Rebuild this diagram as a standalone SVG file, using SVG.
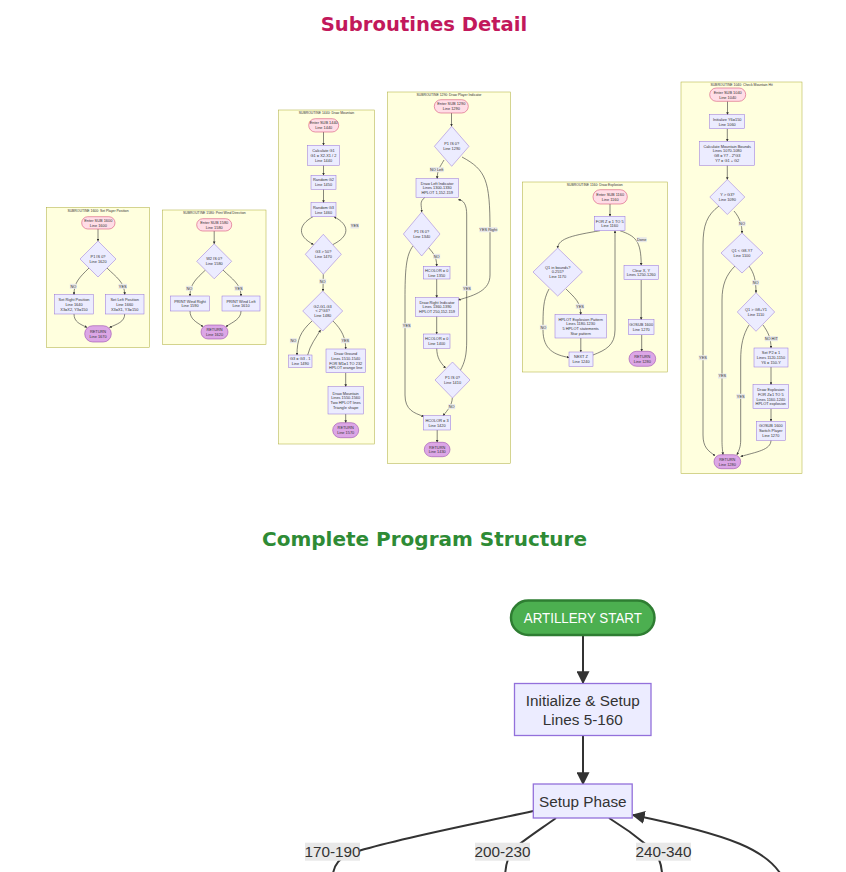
<svg xmlns="http://www.w3.org/2000/svg" width="846" height="872" viewBox="0 0 846 872">
<defs>
<marker id="a" viewBox="0 0 10 10" refX="9" refY="5" markerWidth="2.6" markerHeight="2.6" markerUnits="userSpaceOnUse" orient="auto"><path d="M0,0 L10,5 L0,10 Z" fill="#333"/></marker>
<marker id="b" viewBox="0 0 10 10" refX="9" refY="5" markerWidth="13" markerHeight="13" markerUnits="userSpaceOnUse" orient="auto"><path d="M0,0 L10,5 L0,10 Z" fill="#333"/></marker>
</defs>
<style>
.cl{fill:#ffffde;stroke:#aaaa33;stroke-width:0.5}
.n{fill:#ececff;stroke:#9370db;stroke-width:0.5}
.en{fill:#ffdde6;stroke:#d6547a;stroke-width:0.6}
.rt{fill:#dca6e6;stroke:#9c4fb0;stroke-width:0.6}
.t{font-family:"Liberation Sans",Arial,sans-serif;font-size:3.9px;fill:#333;text-anchor:middle}
.ct{font-family:"Liberation Sans",Arial,sans-serif;font-size:3.4px;fill:#333;text-anchor:middle}
.e{fill:none;stroke:#444;stroke-width:0.65;marker-end:url(#a)}
.lb{fill:#e8e8e8}
.bn{fill:#ececff;stroke:#9370db;stroke-width:1.3}
.be{fill:none;stroke:#333;stroke-width:2}
.bt{font-family:"Liberation Sans",Arial,sans-serif;font-size:15.3px;fill:#333;text-anchor:middle}
.h{font-family:"DejaVu Sans",Verdana,sans-serif;font-weight:bold;text-anchor:middle}
</style>
<rect width="846" height="872" fill="#ffffff"/>
<text class="h" x="424" y="31" font-size="19.6" fill="#c2185b">Subroutines Detail</text>
<text class="h" x="424.5" y="546.3" font-size="20" fill="#2e8b35">Complete Program Structure</text>

<!-- clusters -->
<g id="sub1600">
<rect class="cl" x="46.5" y="207.5" width="103" height="140"/>
<text class="ct" x="98" y="211.8">SUBROUTINE 1600: Set Player Position</text>
</g>
<g id="sub1580">
<rect class="cl" x="162.7" y="210" width="103.3" height="134.7"/>
<text class="ct" x="214.4" y="214">SUBROUTINE 1580: Print Wind Direction</text>
</g>
<g id="sub1440">
<rect class="cl" x="278.7" y="110" width="95.6" height="334"/>
<text class="ct" x="326.5" y="114">SUBROUTINE 1440: Draw Mountain</text>
</g>
<g id="sub1290">
<rect class="cl" x="387.5" y="92" width="123" height="371.3"/>
<text class="ct" x="449" y="96">SUBROUTINE 1290: Draw Player Indicator</text>
</g>
<g id="sub1160">
<rect class="cl" x="522.3" y="182" width="145" height="190"/>
<text class="ct" x="594.8" y="186.3">SUBROUTINE 1160: Draw Explosion</text>
</g>
<g id="sub1040">
<rect class="cl" x="681" y="82" width="121" height="391.7"/>
<text class="ct" x="741.5" y="86">SUBROUTINE 1040: Check Mountain Hit</text>
</g>

<!-- connectors -->
<g id="connectors">
<!-- 1600 -->
<path class="e" d="M98,229 L98,241"/>
<path class="e" d="M89,268 C80,277 74,282 74,294.7"/>
<path class="e" d="M107,268 C116,277 124.7,282 124.7,294.7"/>
<path class="e" d="M74,314 C74,322 80,324 87,327.5"/>
<path class="e" d="M124.7,314 C124.7,322 117,324 109.5,327.5"/>
<!-- 1580 -->
<path class="e" d="M214.2,231 L214.2,243.8"/>
<path class="e" d="M205.5,270 C196,279 190,284 190,296"/>
<path class="e" d="M223,270 C232,279 241,284 241,296"/>
<path class="e" d="M190,311 C190,319 196,322 203,326.5"/>
<path class="e" d="M241,311 C241,319 233,322 226,326.5"/>
<!-- 1440 -->
<path class="e" d="M323.5,132 L323.5,145.3"/>
<path class="e" d="M323.5,165.3 L323.5,175.3"/>
<path class="e" d="M323.5,189.3 L323.5,202.7"/>
<path class="e" d="M313,216.7 C298,225 297,236 313.5,244.5"/>
<path class="e" d="M333,244.5 C350,236 350,225 334,216.7"/>
<path class="e" d="M323.3,274.3 L323,291"/>
<path class="e" d="M312,321 C300,332 297,340 297,355"/>
<path class="e" d="M307.7,355 C310,345 316,338 320.5,330"/>
<path class="e" d="M333,321 C342,330 345.7,338 345.7,349"/>
<path class="e" d="M345.7,372.7 L345.7,386.7"/>
<path class="e" d="M345.7,414 L345.7,422.7"/>
<!-- 1290 -->
<path class="e" d="M451.5,113 L451.5,126.3"/>
<path class="e" d="M444,160 C440,167 437.2,170 437.2,178.7"/>
<path class="e" d="M462,157 C486,170 490,180 490,230 L490,275 C490,290 476,295 458.3,300"/>
<path class="e" d="M425,197.3 C419,202 421.7,205 421.7,212"/>
<path class="e" d="M428,247 C433,253 436.7,256 436.7,266.3"/>
<path class="e" d="M413,246 C406,255 405,270 405,300 L405,395 C405,410 414,413 423.8,416.5"/>
<path class="e" d="M436.7,279 L436.7,297.7"/>
<path class="e" d="M436.7,316.3 L436.7,334"/>
<path class="e" d="M436.7,348.3 C437,358 440,362 445.5,368"/>
<path class="e" d="M460,371 C465,362 466.7,355 466.7,340 L466.7,215 C466.7,205 464,200 458.3,199.7"/>
<path class="e" d="M452.3,398 C452,405 448,410 443,415.7"/>
<path class="e" d="M437.2,430 L437.2,442.3"/>
<!-- 1160 -->
<path class="e" d="M610,204 L610,216.3"/>
<path class="e" d="M600,230.7 C575,235 558,238 557.7,248"/>
<path class="e" d="M620,230.7 C635,236 641.2,240 641.2,265.3"/>
<path class="e" d="M566,289 C575,298 580.7,302 580.7,314.7"/>
<path class="e" d="M549,289 C543,300 543,310 543,330 C543,350 555,355 569,357.5"/>
<path class="e" d="M580.8,338 L580.8,352"/>
<path class="e" d="M593,355 C606,350 615,345 615,330 L615,245 C615,237 615,234 615,230.7"/>
<path class="e" d="M641.2,279.7 L641.2,319.7"/>
<path class="e" d="M641.7,334.7 L641.7,351.3"/>
<!-- 1040 -->
<path class="e" d="M727.5,101.3 L727.5,114.7"/>
<path class="e" d="M727.3,128.7 L727.3,141.3"/>
<path class="e" d="M727.3,165.3 L727.3,179.5"/>
<path class="e" d="M734,211 C740,218 742,225 742,233"/>
<path class="e" d="M719,206 C707,215 703,225 703,245 L703,435 C703,447 708,451 715,455.5"/>
<path class="e" d="M749,266 C754,273 756,280 756,292.7"/>
<path class="e" d="M735,266 C726,275 722,285 722,300 L722,440 C722,447 722.5,450 723,454.7"/>
<path class="e" d="M763,325 C768,332 771,338 771,348"/>
<path class="e" d="M749,325 C743,335 740.7,345 740.7,360 L740.7,440 C740.7,447 739,450 737,454.7"/>
<path class="e" d="M771,367 L771,384.7"/>
<path class="e" d="M771,408.7 L771,421.3"/>
<path class="e" d="M771,440.3 C771,450 756,452 740.7,456.5"/>
<!-- main -->
<path class="be" marker-end="url(#b)" d="M583,635 L583,683"/>
<path class="be" marker-end="url(#b)" d="M583,735.3 L583,784"/>
<path class="be" d="M533.3,811 C470,825 400,838 355,852 C340,857 332.5,864 332.5,880"/>
<path class="be" d="M556,818 C545,826 530,836 517,846 C509,854 505,862 505,880"/>
<path class="be" d="M609,818 C622,826 636,836 648,846 C658,854 662.3,862 662.3,880"/>
<path class="be" marker-end="url(#b)" d="M784,880 C770,850 730,835 633,815"/>
</g>

<!-- edge labels -->
<g id="edge-labels">
<rect class="lb" x="69.8" y="283.8" width="7" height="5"/><text class="t" x="73.3" y="287.7">NO</text>
<rect class="lb" x="118.5" y="283.8" width="8.5" height="5"/><text class="t" x="122.7" y="287.7">YES</text>
<rect class="lb" x="185.8" y="285.8" width="7" height="5"/><text class="t" x="189.3" y="289.7">NO</text>
<rect class="lb" x="234.5" y="285.8" width="8.5" height="5"/><text class="t" x="238.7" y="289.7">YES</text>
<rect class="lb" x="350.5" y="223.5" width="8.5" height="5"/><text class="t" x="354.7" y="227.4">YES</text>
<rect class="lb" x="319.2" y="278.8" width="7" height="5"/><text class="t" x="322.7" y="282.7">NO</text>
<rect class="lb" x="289.8" y="338.2" width="7" height="5"/><text class="t" x="293.3" y="342.1">NO</text>
<rect class="lb" x="341" y="338.2" width="8.5" height="5"/><text class="t" x="345.3" y="342.1">YES</text>
<rect class="lb" x="429.7" y="167.2" width="14" height="5"/><text class="t" x="436.7" y="171.1">NO Left</text>
<rect class="lb" x="479.3" y="227.2" width="18" height="5"/><text class="t" x="488.3" y="231.1">YES Right</text>
<rect class="lb" x="433.2" y="253.8" width="7" height="5"/><text class="t" x="436.7" y="257.7">NO</text>
<rect class="lb" x="462.7" y="285.8" width="8.5" height="5"/><text class="t" x="467" y="289.7">YES</text>
<rect class="lb" x="402.4" y="323.2" width="8.5" height="5"/><text class="t" x="406.7" y="327.1">YES</text>
<rect class="lb" x="448.2" y="404.2" width="7" height="5"/><text class="t" x="451.7" y="408.1">NO</text>
<rect class="lb" x="636.7" y="237.2" width="10" height="5"/><text class="t" x="641.7" y="241.1">Done</text>
<rect class="lb" x="575.7" y="303.8" width="8.5" height="5"/><text class="t" x="580" y="307.7">YES</text>
<rect class="lb" x="539.8" y="324.8" width="7" height="5"/><text class="t" x="543.3" y="328.7">NO</text>
<rect class="lb" x="738.5" y="221.2" width="7" height="5"/><text class="t" x="742" y="225.1">NO</text>
<rect class="lb" x="752.2" y="280.2" width="7" height="5"/><text class="t" x="755.7" y="284.1">NO</text>
<rect class="lb" x="764.8" y="336.2" width="13" height="5"/><text class="t" x="771.3" y="340.1">NO HIT</text>
<rect class="lb" x="698.7" y="355.2" width="8.5" height="5"/><text class="t" x="703" y="359.1">YES</text>
<rect class="lb" x="718" y="373.5" width="8.5" height="5"/><text class="t" x="722.3" y="377.4">YES</text>
<rect class="lb" x="736.4" y="393.8" width="8.5" height="5"/><text class="t" x="740.7" y="397.7">YES</text>
<rect class="lb" x="305" y="842.7" width="55" height="18"/><text class="bt" x="332.5" y="857">170-190</text>
<rect class="lb" x="475" y="842.7" width="55" height="18"/><text class="bt" x="502.5" y="857">200-230</text>
<rect class="lb" x="636" y="842.7" width="55" height="18"/><text class="bt" x="663.5" y="857">240-340</text>
</g>

<!-- 1600 nodes -->
<g id="n1600_enter"><rect class="en" x="81.7" y="216.7" width="33.3" height="12.3" rx="6.1"/><text class="t" x="98.3" y="222"><tspan x="98.3">Enter SUB 1600</tspan><tspan x="98.3" dy="4.8">Line 1600</tspan></text></g>
<g id="n1600_dec"><path class="n" d="M98,241 L116,259 L98,277 L80,259 Z"/><text class="t" x="98" y="258"><tspan x="98">P1 IS 0?</tspan><tspan x="98" dy="4.8">Line 1620</tspan></text></g>
<g id="n1600_right"><rect class="n" x="54.7" y="294.7" width="38.6" height="19.3"/><text class="t" y="300.9"><tspan x="74">Set Right Position</tspan><tspan x="74" dy="4.8">Line 1640</tspan><tspan x="74" dy="4.8">X3=X2, Y3=150</tspan></text></g>
<g id="n1600_left"><rect class="n" x="105.3" y="294.7" width="38.7" height="19.3"/><text class="t" y="300.9"><tspan x="124.7">Set Left Position</tspan><tspan x="124.7" dy="4.8">Line 1660</tspan><tspan x="124.7" dy="4.8">X3=X1, Y3=150</tspan></text></g>
<g id="n1600_ret"><rect class="rt" x="84.7" y="325.7" width="26.6" height="16.3" rx="8.1"/><text class="t" y="333"><tspan x="98">RETURN</tspan><tspan x="98" dy="4.8">Line 1670</tspan></text></g>

<!-- 1580 nodes -->
<g id="n1580_enter"><rect class="en" x="196.7" y="218.7" width="35" height="12.3" rx="6.1"/><text class="t" y="223.8"><tspan x="214.2">Enter SUB 1580</tspan><tspan x="214.2" dy="4.8">Line 1580</tspan></text></g>
<g id="n1580_dec"><path class="n" d="M214.2,243.8 L231.7,261.3 L214.2,278.8 L196.7,261.3 Z"/><text class="t" y="260.3"><tspan x="214.2">W2 IS 0?</tspan><tspan x="214.2" dy="4.8">Line 1580</tspan></text></g>
<g id="n1580_right"><rect class="n" x="170.7" y="296" width="38.6" height="15"/><text class="t" y="302.5"><tspan x="190">PRINT Wind Right</tspan><tspan x="190" dy="4.8">Line 1590</tspan></text></g>
<g id="n1580_left"><rect class="n" x="222" y="296" width="38" height="15"/><text class="t" y="302.5"><tspan x="241">PRINT Wind Left</tspan><tspan x="241" dy="4.8">Line 1610</tspan></text></g>
<g id="n1580_ret"><rect class="rt" x="201" y="325" width="27" height="14" rx="7"/><text class="t" y="331"><tspan x="214.5">RETURN</tspan><tspan x="214.5" dy="4.8">Line 1620</tspan></text></g>

<!-- 1440 nodes -->
<g id="n1440_enter"><rect class="en" x="308.7" y="118.7" width="30" height="13.3" rx="6.6"/><text class="t" y="124.3"><tspan x="323.7">Enter SUB 1440</tspan><tspan x="323.7" dy="4.8">Line 1440</tspan></text></g>
<g id="n1440_calc"><rect class="n" x="307.7" y="145.3" width="31.6" height="20"/><text class="t" y="151.9"><tspan x="323.5">Calculate G1</tspan><tspan x="323.5" dy="4.8">G1 = X2-X1 / 2</tspan><tspan x="323.5" dy="4.8">Line 1440</tspan></text></g>
<g id="n1440_g2"><rect class="n" x="311" y="175.3" width="25" height="14"/><text class="t" y="181.3"><tspan x="323.5">Random G2</tspan><tspan x="323.5" dy="4.8">Line 1450</tspan></text></g>
<g id="n1440_g3"><rect class="n" x="311" y="202.7" width="25" height="14"/><text class="t" y="208.7"><tspan x="323.5">Random G3</tspan><tspan x="323.5" dy="4.8">Line 1460</tspan></text></g>
<g id="n1440_dec1"><path class="n" d="M323.3,234.3 L341.3,254.3 L323.3,274.3 L305.3,254.3 Z"/><text class="t" y="253.3"><tspan x="323.3">G3 &gt; 50?</tspan><tspan x="323.3" dy="4.8">Line 1470</tspan></text></g>
<g id="n1440_dec2"><path class="n" d="M322.7,291 L342.7,311 L322.7,331 L302.7,311 Z"/><text class="t" y="307.6"><tspan x="322.7">G2-G1-G3</tspan><tspan x="322.7" dy="4.8">&lt; 2*G3?</tspan><tspan x="322.7" dy="4.8">Line 1480</tspan></text></g>
<g id="n1440_dec3"><rect class="n" x="288.7" y="355" width="23.3" height="12.3"/><text class="t" y="360.2"><tspan x="300.3">G3 = G3 - 1</tspan><tspan x="300.3" dy="4.8">Line 1490</tspan></text></g>
<g id="n1440_ground"><rect class="n" x="326" y="349" width="39.3" height="23.7"/><text class="t" y="355"><tspan x="345.7">Draw Ground</tspan><tspan x="345.7" dy="4.8">Lines 1510-1540</tspan><tspan x="345.7" dy="4.8">FOR M1=1 TO 232</tspan><tspan x="345.7" dy="4.8">HPLOT orange line</tspan></text></g>
<g id="n1440_mtn"><rect class="n" x="328" y="386.7" width="35.3" height="27.3"/><text class="t" y="394.5"><tspan x="345.7">Draw Mountain</tspan><tspan x="345.7" dy="4.8">Lines 1550-1560</tspan><tspan x="345.7" dy="4.8">Two HPLOT lines</tspan><tspan x="345.7" dy="4.8">Triangle shape</tspan></text></g>
<g id="n1440_ret"><rect class="rt" x="332.7" y="422.7" width="26" height="15" rx="7.5"/><text class="t" y="429.2"><tspan x="345.7">RETURN</tspan><tspan x="345.7" dy="4.8">Line 1570</tspan></text></g>

<!-- 1290 nodes -->
<g id="n1290_enter"><rect class="en" x="434.3" y="99.7" width="34" height="13.3" rx="6.6"/><text class="t" y="105.3"><tspan x="451.3">Enter SUB 1290</tspan><tspan x="451.3" dy="4.8">Line 1290</tspan></text></g>
<g id="n1290_d1"><path class="n" d="M451.7,126.3 L469,146.3 L451.7,166.3 L434.4,146.3 Z"/><text class="t" y="145.3"><tspan x="451.7">P1 IS 0?</tspan><tspan x="451.7" dy="4.8">Line 1290</tspan></text></g>
<g id="n1290_left"><rect class="n" x="416" y="178.7" width="42.3" height="18.6"/><text class="t" y="184.6"><tspan x="437.2">Draw Left Indicator</tspan><tspan x="437.2" dy="4.8">Lines 1300-1330</tspan><tspan x="437.2" dy="4.8">HPLOT 1,152-159</tspan></text></g>
<g id="n1290_d2"><path class="n" d="M421.7,212 L440,234 L421.7,256 L403.4,234 Z"/><text class="t" y="233"><tspan x="421.7">P1 IS 0?</tspan><tspan x="421.7" dy="4.8">Line 1340</tspan></text></g>
<g id="n1290_h0a"><rect class="n" x="423.3" y="266.3" width="26.7" height="12.7"/><text class="t" y="271.7"><tspan x="436.7">HCOLOR = 0</tspan><tspan x="436.7" dy="4.8">Line 1350</tspan></text></g>
<g id="n1290_right"><rect class="n" x="415.7" y="297.7" width="42.6" height="18.6"/><text class="t" y="303.6"><tspan x="437">Draw Right Indicator</tspan><tspan x="437" dy="4.8">Lines 1360-1390</tspan><tspan x="437" dy="4.8">HPLOT 250,152-159</tspan></text></g>
<g id="n1290_h0b"><rect class="n" x="423.3" y="334" width="26.7" height="14.3"/><text class="t" y="340.2"><tspan x="436.7">HCOLOR = 0</tspan><tspan x="436.7" dy="4.8">Line 1400</tspan></text></g>
<g id="n1290_d3"><path class="n" d="M452.5,362 L470,380 L452.5,398 L435,380 Z"/><text class="t" y="379"><tspan x="452.5">P1 IS 0?</tspan><tspan x="452.5" dy="4.8">Line 1410</tspan></text></g>
<g id="n1290_h3"><rect class="n" x="423.3" y="415.7" width="27.4" height="14.3"/><text class="t" y="421.8"><tspan x="437">HCOLOR = 3</tspan><tspan x="437" dy="4.8">Line 1420</tspan></text></g>
<g id="n1290_ret"><rect class="rt" x="424.3" y="442.3" width="25.7" height="14.4" rx="7.2"/><text class="t" y="448.5"><tspan x="437.2">RETURN</tspan><tspan x="437.2" dy="4.8">Line 1430</tspan></text></g>

<!-- 1160 nodes -->
<g id="n1160_enter"><rect class="en" x="593" y="189.7" width="34.3" height="14.3" rx="7.1"/><text class="t" y="195.8"><tspan x="610.2">Enter SUB 1160</tspan><tspan x="610.2" dy="4.8">Line 1160</tspan></text></g>
<g id="n1160_for"><rect class="n" x="594.3" y="216.3" width="30.7" height="14.4"/><text class="t" y="222.5"><tspan x="609.7">FOR Z = 1 TO 5</tspan><tspan x="609.7" dy="4.8">Line 1160</tspan></text></g>
<g id="n1160_dec"><path class="n" d="M557.7,248 L582.4,272 L557.7,296 L533,272 Z"/><text class="t" y="268.6"><tspan x="557.7">Q1 in bounds?</tspan><tspan x="557.7" dy="4.8">0-255?</tspan><tspan x="557.7" dy="4.8">Line 1170</tspan></text></g>
<g id="n1160_clear"><rect class="n" x="624" y="265.3" width="34.3" height="14.4"/><text class="t" y="271.5"><tspan x="641.2">Clear X, Y</tspan><tspan x="641.2" dy="4.8">Lines 1250-1260</tspan></text></g>
<g id="n1160_hplot"><rect class="n" x="555" y="314.7" width="51.3" height="23.3"/><text class="t" y="320.5"><tspan x="580.7">HPLOT Explosion Pattern</tspan><tspan x="580.7" dy="4.8">Lines 1180-1230</tspan><tspan x="580.7" dy="4.8">5 HPLOT statements</tspan><tspan x="580.7" dy="4.8">Star pattern</tspan></text></g>
<g id="n1160_next"><rect class="n" x="569" y="352" width="24" height="14.3"/><text class="t" y="358.2"><tspan x="581">NEXT Z</tspan><tspan x="581" dy="4.8">Line 1240</tspan></text></g>
<g id="n1160_gosub"><rect class="n" x="628.3" y="319.7" width="25.7" height="15"/><text class="t" y="326.2"><tspan x="641.2">GOSUB 1600</tspan><tspan x="641.2" dy="4.8">Line 1270</tspan></text></g>
<g id="n1160_ret"><rect class="rt" x="629" y="351.3" width="26.7" height="15" rx="7.5"/><text class="t" y="357.8"><tspan x="642.3">RETURN</tspan><tspan x="642.3" dy="4.8">Line 1280</tspan></text></g>

<!-- 1040 nodes -->
<g id="n1040_enter"><rect class="en" x="709.7" y="88" width="36" height="13.3" rx="6.6"/><text class="t" y="93.7"><tspan x="727.7">Enter SUB 1040</tspan><tspan x="727.7" dy="4.8">Line 1040</tspan></text></g>
<g id="n1040_init"><rect class="n" x="709.7" y="114.7" width="35" height="14"/><text class="t" y="120.7"><tspan x="727.2">Initialize Y6=150</tspan><tspan x="727.2" dy="4.8">Line 1060</tspan></text></g>
<g id="n1040_calc"><rect class="n" x="699.7" y="141.3" width="55" height="24"/><text class="t" y="147.5"><tspan x="727.2">Calculate Mountain Bounds</tspan><tspan x="727.2" dy="4.8">Lines 1070-1080</tspan><tspan x="727.2" dy="4.8">G8 = Y7 - 2*G3</tspan><tspan x="727.2" dy="4.8">Y7 = G1 + G2</tspan></text></g>
<g id="n1040_d1"><path class="n" d="M727.3,179.5 L744.8,197 L727.3,214.5 L709.8,197 Z"/><text class="t" y="196"><tspan x="727.3">Y &gt; G3?</tspan><tspan x="727.3" dy="4.8">Line 1090</tspan></text></g>
<g id="n1040_d2"><path class="n" d="M742,233 L763,253 L742,273 L721,253 Z"/><text class="t" y="252"><tspan x="742">Q1 &lt; G8-Y7</tspan><tspan x="742" dy="4.8">Line 1100</tspan></text></g>
<g id="n1040_d3"><path class="n" d="M756,292.7 L774.7,312 L756,331.3 L737.3,312 Z"/><text class="t" y="311"><tspan x="756">Q1 &gt; G8+Y1</tspan><tspan x="756" dy="4.8">Line 1110</tspan></text></g>
<g id="n1040_set"><rect class="n" x="754" y="348" width="34" height="19"/><text class="t" y="354.1"><tspan x="771">Set P2 = 1</tspan><tspan x="771" dy="4.8">Lines 1120-1150</tspan><tspan x="771" dy="4.8">Y6 = 150-Y</tspan></text></g>
<g id="n1040_expl"><rect class="n" x="753" y="384.7" width="35.7" height="24"/><text class="t" y="390.9"><tspan x="770.8">Draw Explosion</tspan><tspan x="770.8" dy="4.8">FOR Z=1 TO 5</tspan><tspan x="770.8" dy="4.8">Lines 1160-1240</tspan><tspan x="770.8" dy="4.8">HPLOT explosion</tspan></text></g>
<g id="n1040_gosub"><rect class="n" x="756.3" y="421.3" width="29" height="19"/><text class="t" y="427.4"><tspan x="770.8">GOSUB 1600</tspan><tspan x="770.8" dy="4.8">Switch Player</tspan><tspan x="770.8" dy="4.8">Line 1270</tspan></text></g>
<g id="n1040_ret"><rect class="rt" x="714" y="454.7" width="26.7" height="14" rx="7"/><text class="t" y="460.7"><tspan x="727.3">RETURN</tspan><tspan x="727.3" dy="4.8">Line 1280</tspan></text></g>

<!-- main structure -->
<g id="start"><rect x="511" y="600.5" width="143.5" height="34.5" rx="17.2" fill="#4caf50" stroke="#2e7d32" stroke-width="2.5"/><text x="582.8" y="622.8" font-family="Liberation Sans, Arial, sans-serif" font-size="14" fill="#ffffff" text-anchor="middle" textLength="118" lengthAdjust="spacingAndGlyphs">ARTILLERY START</text></g>
<g id="init"><rect class="bn" x="514.5" y="683.5" width="136.5" height="52"/><text class="bt" y="706"><tspan x="582.8">Initialize &amp; Setup</tspan><tspan x="582.8" dy="18.5">Lines 5-160</tspan></text></g>
<g id="setup"><rect class="bn" x="533.3" y="784" width="98.9" height="34"/><text class="bt" x="582.8" y="806.5">Setup Phase</text></g>
</svg>
